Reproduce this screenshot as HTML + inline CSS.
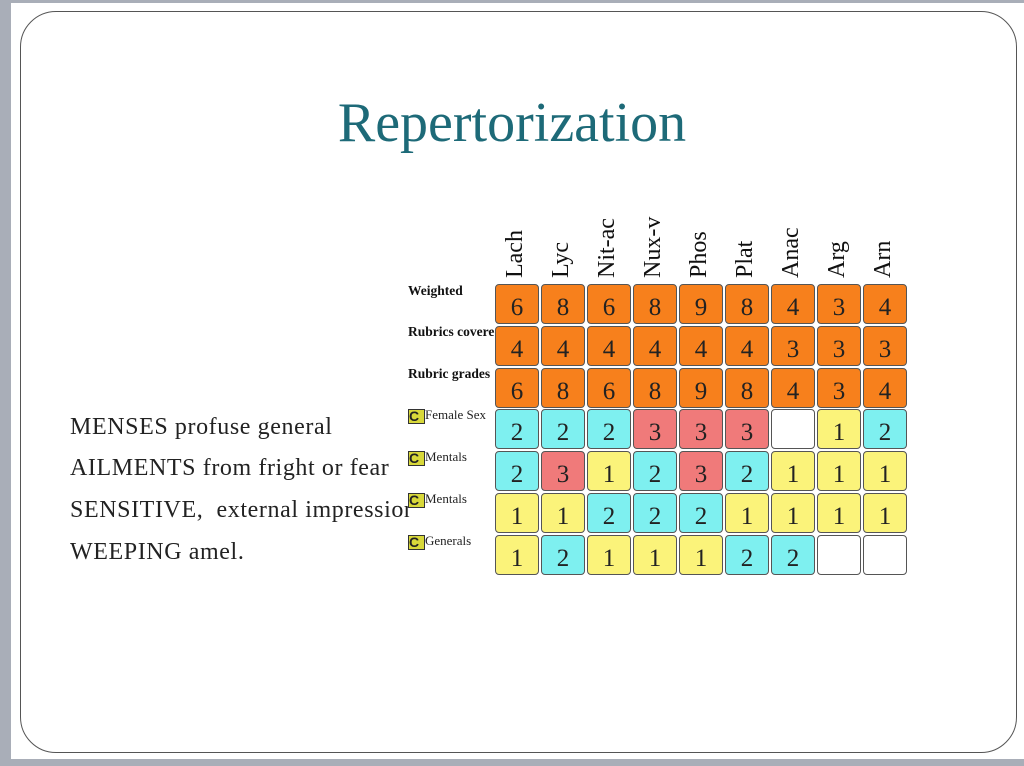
<!DOCTYPE html>
<html><head><style>
body{margin:0;width:1024px;height:766px;background:#fff;position:relative;overflow:hidden;font-family:"Liberation Serif",serif}
.gl{position:absolute;left:0;top:0;width:11px;height:766px;background:#a9aeb8}
.gt{position:absolute;left:0;top:0;width:1024px;height:3px;background:#a9aeb8}
.gb{position:absolute;left:0;top:759px;width:1024px;height:7px;background:#a9aeb8}
.frame{position:absolute;left:20px;top:11px;width:995px;height:740px;border:1.5px solid #555;border-radius:36px}
.title{position:absolute;left:0;width:1024px;top:91px;text-align:center;font-size:56px;color:#1d6a78}
.lt{position:absolute;left:70px;font-size:24px;letter-spacing:0.6px;color:#222;white-space:nowrap;width:340px;overflow:hidden}
.c{position:absolute;width:42px;height:38px;border:1.5px solid #555;border-radius:4px;text-align:center;font-size:25px;line-height:46px;color:#222}
.o{background:#f7801c}.b{background:#7ef0f0}.r{background:#f07a7a}.y{background:#fbf37a}.w{background:#fff}
.h{position:absolute;font-size:24px;color:#111;transform:rotate(-90deg);transform-origin:left bottom;white-space:nowrap}
.rl{position:absolute;left:408px;font-size:13.5px;font-weight:bold;color:#111;white-space:nowrap;width:87px;overflow:hidden}
.cl{position:absolute;left:408px;font-size:13px;color:#222;white-space:nowrap;width:87px;overflow:hidden}
.ci{display:inline-block;width:15px;height:13px;background:#d8d83a;border:1px solid #333;font-weight:bold;font-size:14px;line-height:13px;vertical-align:middle;font-family:"Liberation Sans",sans-serif}
</style></head><body>
<div class="gl"></div><div class="gt"></div><div class="gb"></div>
<div class="frame"></div>
<div class="title">Repertorization</div>
<div class="lt" style="top:414px">MENSES profuse general</div>
<div class="lt" style="top:455px">AILMENTS from fright or fear</div>
<div class="lt" style="top:497px">SENSITIVE,&nbsp; external impression</div>
<div class="lt" style="top:539px">WEEPING amel.</div>
<div class="rl" style="top:283px">Weighted</div>
<div class="rl" style="top:324px">Rubrics covered</div>
<div class="rl" style="top:366px">Rubric grades</div>
<div class="cl" style="top:407px"><span class="ci">C</span>Female Sex</div>
<div class="cl" style="top:449px"><span class="ci">C</span>Mentals</div>
<div class="cl" style="top:491px"><span class="ci">C</span>Mentals</div>
<div class="cl" style="top:533px"><span class="ci">C</span>Generals</div>
<div id="g"></div>
<script>
var heads=["Lach","Lyc","Nit-ac","Nux-v","Phos","Plat","Anac","Arg","Arn"];
var rows=[
"o6 o8 o6 o8 o9 o8 o4 o3 o4",
"o4 o4 o4 o4 o4 o4 o3 o3 o3",
"o6 o8 o6 o8 o9 o8 o4 o3 o4",
"b2 b2 b2 r3 r3 r3 w y1 b2",
"b2 r3 y1 b2 r3 b2 y1 y1 y1",
"y1 y1 b2 b2 b2 y1 y1 y1 y1",
"y1 b2 y1 y1 y1 b2 b2 w w"];
var h="";
for(var i=0;i<9;i++){var x=495+i*46;
h+='<div class="h" style="left:'+(x+34)+'px;top:'+(279-28)+'px">'+heads[i]+'</div>';}
for(var r=0;r<7;r++){var cs=rows[r].split(" ");
for(var i=0;i<9;i++){var x=495+i*46,y=284+r*41.8;
h+='<div class="c '+cs[i][0]+'" style="left:'+x+'px;top:'+y+'px">'+cs[i].slice(1)+'</div>';}}
document.getElementById("g").innerHTML=h;
</script>
</body></html>
